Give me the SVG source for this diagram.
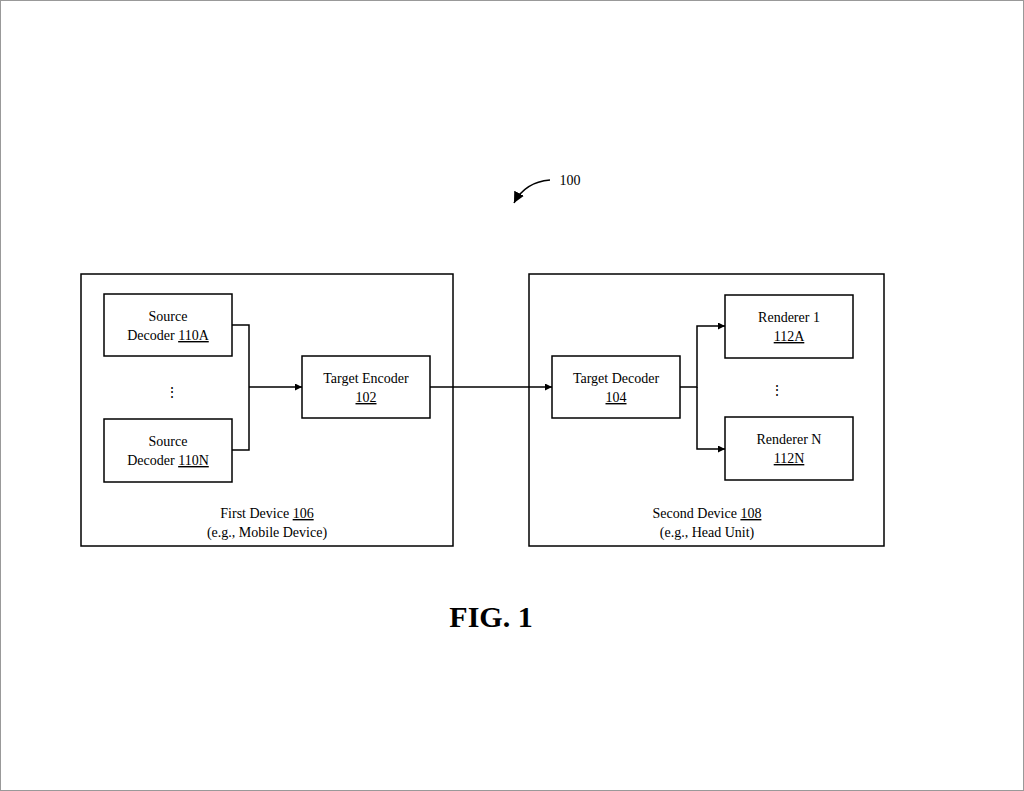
<svg xmlns="http://www.w3.org/2000/svg" width="1024" height="791" viewBox="0 0 1024 791">
<defs>
<style>
.b{fill:#fff;stroke:#000;stroke-width:1.5}
.t{font-family:"Liberation Serif",serif;font-size:14px;fill:#000;text-anchor:middle}
.c{fill:none;stroke:#000;stroke-width:1.5}
</style>
<marker id="a" viewBox="0 0 10 10" refX="10" refY="5" markerWidth="7" markerHeight="7" orient="auto" markerUnits="userSpaceOnUse"><path d="M0,0L10,5L0,10z"/></marker>
<marker id="a2" viewBox="0 0 10 10" refX="10" refY="5" markerWidth="11" markerHeight="11" orient="auto" markerUnits="userSpaceOnUse"><path d="M0,0L10,5L0,10z"/></marker>
</defs>
<rect x="0.5" y="0.5" width="1023" height="790" fill="#fff" stroke="#999"/>
<g id="ref100">
<path class="c" d="M550,180 Q525,182 514,203" marker-end="url(#a2)"/>
<text class="t" x="570" y="185">100</text>
</g>
<g id="dev106"><rect class="b" x="81" y="274" width="372" height="272"/>
<text class="t" x="267" y="518">First Device <tspan text-decoration="underline">106</tspan></text>
<text class="t" x="267" y="537">(e.g., Mobile Device)</text></g>
<g id="dev108"><rect class="b" x="529" y="274" width="355" height="272"/>
<text class="t" x="707" y="518">Second Device <tspan text-decoration="underline">108</tspan></text>
<text class="t" x="707" y="537">(e.g., Head Unit)</text></g>
<g id="sd110A"><rect class="b" x="104" y="294" width="128" height="62"/>
<text class="t" x="168" y="321">Source</text>
<text class="t" x="168" y="340">Decoder <tspan text-decoration="underline">110A</tspan></text></g>
<g id="sd110N"><rect class="b" x="104" y="419" width="128" height="63"/>
<text class="t" x="168" y="446">Source</text>
<text class="t" x="168" y="465">Decoder <tspan text-decoration="underline">110N</tspan></text></g>
<g id="dots1"><text class="t" x="172" y="397" font-size="20">⋮</text></g>
<g id="te102"><rect class="b" x="302" y="356" width="128" height="62"/>
<text class="t" x="366" y="383">Target Encoder</text>
<text class="t" x="366" y="402" text-decoration="underline">102</text></g>
<g id="td104"><rect class="b" x="552" y="356" width="128" height="62"/>
<text class="t" x="616" y="383">Target Decoder</text>
<text class="t" x="616" y="402" text-decoration="underline">104</text></g>
<g id="r112A"><rect class="b" x="725" y="295" width="128" height="63"/>
<text class="t" x="789" y="322">Renderer 1</text>
<text class="t" x="789" y="341" text-decoration="underline">112A</text></g>
<g id="r112N"><rect class="b" x="725" y="417" width="128" height="63"/>
<text class="t" x="789" y="444">Renderer N</text>
<text class="t" x="789" y="463" text-decoration="underline">112N</text></g>
<g id="dots2"><text class="t" x="777" y="395" font-size="20">⋮</text></g>
<g id="connectors">
<path class="c" d="M232,325H249V450H232M249,387H302" marker-end="url(#a)"/>
<path class="c" d="M430,387H552" marker-end="url(#a)"/>
<path class="c" d="M680,387H697V326H725" marker-end="url(#a)"/>
<path class="c" d="M697,387V449H725" marker-end="url(#a)"/>
</g>
<text x="491" y="627" font-family="Liberation Serif,serif" font-size="30" font-weight="bold" text-anchor="middle">FIG.  1</text>
</svg>
